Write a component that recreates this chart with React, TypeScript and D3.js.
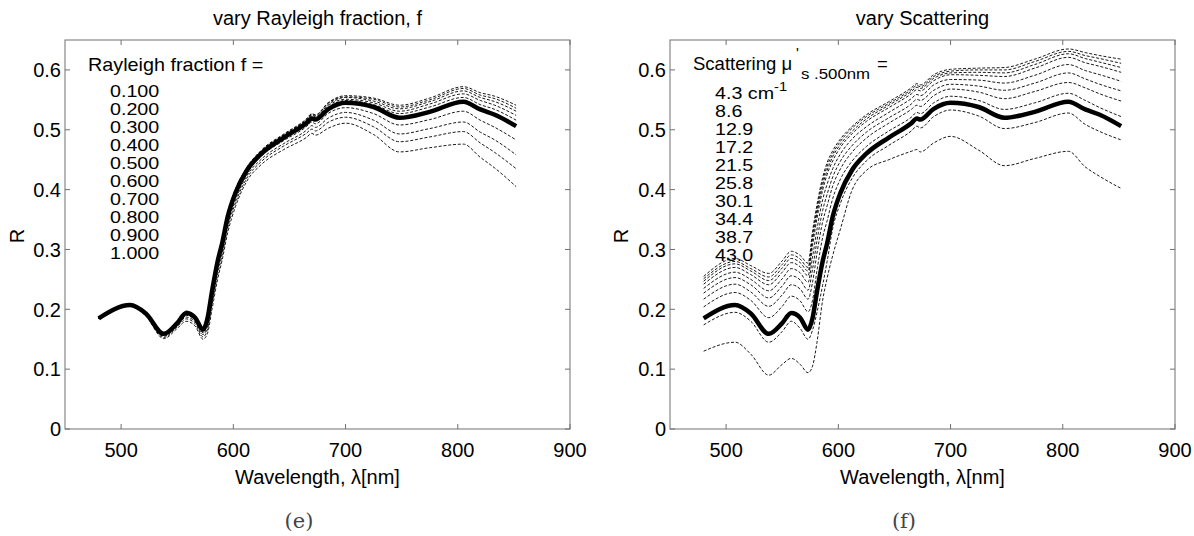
import React from 'react';
import * as d3 from 'd3';

const WL = [480, 508, 522, 538, 550, 558, 566, 573, 577, 581, 586, 590, 595, 602, 612, 625, 645, 665, 670, 673, 685, 700, 725, 748, 775, 805, 820, 833, 852];

// Bold reference curve (same in both panels)
const BOLD = [0.185, 0.207, 0.193, 0.159, 0.177, 0.194, 0.186, 0.166, 0.185, 0.230, 0.280, 0.310, 0.355, 0.395, 0.432, 0.460, 0.487, 0.511, 0.519, 0.517, 0.535, 0.545, 0.538, 0.520, 0.530, 0.547, 0.534, 0.525, 0.506];

// Panel (e): Rayleigh fraction f
const F_LABELS = ['0.100', '0.200', '0.300', '0.400', '0.500', '0.600', '0.700', '0.800', '0.900', '1.000'];
const RAY_F01 = [0.185, 0.207, 0.194, 0.161, 0.180, 0.197, 0.189, 0.170, 0.190, 0.236, 0.287, 0.318, 0.362, 0.401, 0.437, 0.466, 0.493, 0.518, 0.527, 0.525, 0.546, 0.557, 0.553, 0.541, 0.553, 0.572, 0.562, 0.556, 0.541];
const RAY_F02 = [0.185, 0.207, 0.194, 0.161, 0.180, 0.196, 0.188, 0.169, 0.189, 0.235, 0.286, 0.317, 0.361, 0.400, 0.436, 0.465, 0.492, 0.517, 0.526, 0.524, 0.545, 0.555, 0.551, 0.538, 0.550, 0.569, 0.558, 0.552, 0.536];
const RAY_F03 = [0.185, 0.207, 0.194, 0.160, 0.179, 0.196, 0.188, 0.169, 0.188, 0.233, 0.284, 0.315, 0.359, 0.399, 0.435, 0.464, 0.491, 0.516, 0.525, 0.522, 0.543, 0.554, 0.548, 0.535, 0.547, 0.565, 0.554, 0.547, 0.531];
const RAY_F04 = [0.185, 0.207, 0.193, 0.160, 0.179, 0.195, 0.187, 0.168, 0.186, 0.232, 0.282, 0.314, 0.358, 0.397, 0.434, 0.463, 0.490, 0.514, 0.523, 0.521, 0.541, 0.551, 0.545, 0.531, 0.543, 0.560, 0.549, 0.541, 0.524];
const RAY_F05 = [0.185, 0.207, 0.193, 0.159, 0.178, 0.194, 0.186, 0.166, 0.184, 0.229, 0.280, 0.311, 0.356, 0.396, 0.433, 0.462, 0.488, 0.512, 0.521, 0.519, 0.538, 0.549, 0.542, 0.527, 0.538, 0.554, 0.542, 0.534, 0.516];
const RAY_F06 = [0.185, 0.207, 0.193, 0.159, 0.177, 0.193, 0.185, 0.165, 0.183, 0.227, 0.278, 0.309, 0.354, 0.394, 0.431, 0.460, 0.487, 0.510, 0.519, 0.517, 0.535, 0.546, 0.538, 0.521, 0.532, 0.548, 0.535, 0.526, 0.507];
const RAY_F07 = [0.185, 0.207, 0.192, 0.157, 0.175, 0.190, 0.182, 0.161, 0.177, 0.221, 0.271, 0.303, 0.347, 0.389, 0.427, 0.456, 0.482, 0.505, 0.513, 0.510, 0.528, 0.537, 0.527, 0.508, 0.517, 0.531, 0.516, 0.504, 0.483];
const RAY_F08 = [0.186, 0.206, 0.191, 0.155, 0.173, 0.187, 0.179, 0.158, 0.172, 0.214, 0.264, 0.296, 0.341, 0.383, 0.423, 0.451, 0.477, 0.499, 0.507, 0.504, 0.520, 0.529, 0.516, 0.493, 0.502, 0.513, 0.496, 0.483, 0.458];
const RAY_F09 = [0.186, 0.206, 0.190, 0.153, 0.171, 0.184, 0.176, 0.154, 0.167, 0.208, 0.258, 0.290, 0.336, 0.378, 0.419, 0.447, 0.473, 0.494, 0.501, 0.498, 0.513, 0.521, 0.505, 0.480, 0.488, 0.497, 0.478, 0.462, 0.435];
const RAY_F10 = [0.186, 0.206, 0.189, 0.151, 0.168, 0.180, 0.172, 0.150, 0.160, 0.200, 0.250, 0.282, 0.328, 0.372, 0.414, 0.442, 0.467, 0.487, 0.494, 0.491, 0.503, 0.511, 0.492, 0.463, 0.470, 0.476, 0.454, 0.436, 0.405];
const RAYLEIGH_SERIES = [RAY_F01, RAY_F02, RAY_F03, RAY_F04, RAY_F05, RAY_F06, RAY_F07, RAY_F08, RAY_F09, RAY_F10];

// Panel (f): scattering mu_s' at 500 nm
const MU_LABELS = ['4.3', '8.6', '12.9', '17.2', '21.5', '25.8', '30.1', '34.4', '38.7', '43.0'];
const SCA_043 = [0.130, 0.145, 0.125, 0.090, 0.108, 0.118, 0.108, 0.094, 0.105, 0.145, 0.215, 0.252, 0.290, 0.335, 0.398, 0.432, 0.450, 0.464, 0.467, 0.463, 0.478, 0.489, 0.466, 0.440, 0.452, 0.464, 0.438, 0.422, 0.402];
const SCA_086 = [0.174, 0.195, 0.180, 0.145, 0.163, 0.180, 0.168, 0.150, 0.165, 0.195, 0.240, 0.280, 0.335, 0.378, 0.418, 0.448, 0.474, 0.498, 0.506, 0.503, 0.522, 0.533, 0.523, 0.502, 0.512, 0.528, 0.509, 0.497, 0.483];
const SCA_129 = [0.204, 0.228, 0.215, 0.186, 0.205, 0.222, 0.214, 0.196, 0.215, 0.265, 0.320, 0.348, 0.385, 0.418, 0.447, 0.472, 0.498, 0.521, 0.529, 0.527, 0.545, 0.556, 0.549, 0.534, 0.545, 0.561, 0.549, 0.537, 0.522];
const SCA_172 = [0.217, 0.242, 0.229, 0.205, 0.224, 0.241, 0.234, 0.217, 0.245, 0.294, 0.346, 0.373, 0.406, 0.435, 0.462, 0.486, 0.511, 0.534, 0.541, 0.539, 0.557, 0.568, 0.563, 0.552, 0.564, 0.579, 0.570, 0.560, 0.548];
const SCA_215 = [0.227, 0.253, 0.241, 0.219, 0.239, 0.256, 0.249, 0.232, 0.267, 0.315, 0.365, 0.392, 0.421, 0.448, 0.473, 0.496, 0.520, 0.543, 0.551, 0.549, 0.566, 0.576, 0.573, 0.566, 0.578, 0.595, 0.585, 0.576, 0.565];
const SCA_258 = [0.235, 0.262, 0.250, 0.231, 0.251, 0.268, 0.261, 0.245, 0.287, 0.334, 0.383, 0.409, 0.435, 0.460, 0.484, 0.505, 0.529, 0.552, 0.559, 0.557, 0.575, 0.584, 0.583, 0.578, 0.591, 0.609, 0.599, 0.592, 0.581];
const SCA_301 = [0.242, 0.270, 0.258, 0.241, 0.262, 0.278, 0.271, 0.256, 0.306, 0.352, 0.399, 0.425, 0.448, 0.471, 0.493, 0.514, 0.537, 0.560, 0.567, 0.565, 0.582, 0.592, 0.591, 0.589, 0.603, 0.621, 0.612, 0.606, 0.596];
const SCA_344 = [0.247, 0.276, 0.264, 0.248, 0.269, 0.285, 0.278, 0.264, 0.315, 0.361, 0.407, 0.432, 0.455, 0.476, 0.497, 0.518, 0.541, 0.564, 0.571, 0.569, 0.586, 0.595, 0.596, 0.595, 0.609, 0.627, 0.619, 0.613, 0.604];
const SCA_387 = [0.251, 0.280, 0.268, 0.254, 0.275, 0.291, 0.284, 0.270, 0.323, 0.368, 0.414, 0.439, 0.460, 0.481, 0.502, 0.522, 0.544, 0.567, 0.574, 0.572, 0.589, 0.598, 0.600, 0.600, 0.614, 0.631, 0.624, 0.619, 0.611];
const SCA_430 = [0.255, 0.285, 0.273, 0.260, 0.281, 0.297, 0.290, 0.277, 0.330, 0.375, 0.420, 0.445, 0.465, 0.485, 0.505, 0.525, 0.547, 0.570, 0.577, 0.575, 0.592, 0.601, 0.603, 0.604, 0.618, 0.635, 0.629, 0.624, 0.618];
const SCATTERING_SERIES = [SCA_043, SCA_086, SCA_129, SCA_172, SCA_215, SCA_258, SCA_301, SCA_344, SCA_387, SCA_430];

const X_TICKS = [500, 600, 700, 800, 900];
const Y_TICKS = [0, 0.1, 0.2, 0.3, 0.4, 0.5, 0.6];

const FONT = "'Liberation Sans', Arial, Helvetica, sans-serif";
const AXIS_COLOR = '#707070';
const TOP = 40;
const BOTTOM = 429;
const WIDTH = 505;
const LEG_SIZE = 16;
const LEG_STRETCH = 1.23;

type PanelProps = {
  left: number;
  title: string;
  series: number[][];
  rLabelX: number;
  caption: string;
  captionX: number;
  children?: React.ReactNode;
};

function Panel({ left, title, series, rLabelX, caption, captionX, children }: PanelProps) {
  const x = d3.scaleLinear().domain([450, 900]).range([left, left + WIDTH]);
  const y = d3.scaleLinear().domain([0, 0.65]).range([BOTTOM, TOP]);
  const line = d3
    .line<number>()
    .x((_, i) => x(WL[i]))
    .y((d) => y(d))
    .curve(d3.curveMonotoneX);
  const right = left + WIDTH;
  const tl = 5;
  return (
    <g>
      <text x={left + WIDTH / 2} y={25} textAnchor="middle" fontSize={20} fontFamily={FONT}>
        {title}
      </text>
      <rect x={left} y={TOP} width={WIDTH} height={BOTTOM - TOP} fill="none" stroke={AXIS_COLOR} strokeWidth={1} />
      {X_TICKS.map((t) => (
        <g key={'x' + t}>
          <line x1={x(t)} x2={x(t)} y1={BOTTOM} y2={BOTTOM - tl} stroke={AXIS_COLOR} />
          <line x1={x(t)} x2={x(t)} y1={TOP} y2={TOP + tl} stroke={AXIS_COLOR} />
          <text x={x(t)} y={457} textAnchor="middle" fontSize={20} fontFamily={FONT}>
            {t}
          </text>
        </g>
      ))}
      {Y_TICKS.map((t) => (
        <g key={'y' + t}>
          <line x1={left} x2={left + tl} y1={y(t)} y2={y(t)} stroke={AXIS_COLOR} />
          <line x1={right} x2={right - tl} y1={y(t)} y2={y(t)} stroke={AXIS_COLOR} />
          <text x={left - 4} y={y(t)} dy="0.36em" textAnchor="end" fontSize={20} fontFamily={FONT}>
            {t === 0 ? '0' : t.toFixed(1)}
          </text>
        </g>
      ))}
      <text x={left + WIDTH / 2} y={484} textAnchor="middle" fontSize={20} fontFamily={FONT}>
        Wavelength, λ[nm]
      </text>
      <text
        transform={`translate(${rLabelX},${236}) rotate(-90)`}
        textAnchor="middle"
        fontSize={20}
        fontFamily={FONT}
      >
        R
      </text>
      {series.map((s, i) => (
        <path key={i} d={line(s) || ''} fill="none" stroke="#000" strokeWidth={0.9} strokeDasharray="3,1.8" />
      ))}
      <path d={line(BOLD) || ''} fill="none" stroke="#000" strokeWidth={4.5} strokeLinejoin="round" />
      {children}
      <text x={captionX} y={528} textAnchor="middle" fontSize={21} fontFamily="'DejaVu Serif', 'Liberation Serif', serif" fill="#444">
        {caption}
      </text>
    </g>
  );
}

function StretchText({ x, y, size, stretch, children }: { x: number; y: number; size: number; stretch: number; children: React.ReactNode }) {
  return (
    <text transform={`translate(${x},${y}) scale(${stretch},1)`} fontSize={size} fontFamily={FONT}>
      {children}
    </text>
  );
}

export default function App() {
  return (
    <svg
      width={1194}
      height={536}
      viewBox="0 0 1194 536"
      style={{ position: 'absolute', left: 0, top: 0, background: '#fff' }}
    >
      <rect x={0} y={0} width={1194} height={536} fill="#fff" />
      <Panel left={65} title="vary Rayleigh fraction, f" series={RAYLEIGH_SERIES} rLabelX={23.5} caption="(e)" captionX={299}>
        <StretchText x={88} y={71} size={18} stretch={1.1}>
          Rayleigh fraction f =
        </StretchText>
        {F_LABELS.map((l, i) => (
          <StretchText key={l} x={110} y={97 + i * 18} size={LEG_SIZE} stretch={LEG_STRETCH}>
            {l}
          </StretchText>
        ))}
      </Panel>
      <Panel left={670} title="vary Scattering" series={SCATTERING_SERIES} rLabelX={628} caption="(f)" captionX={904}>
        <text x={693} y={70} fontSize={18.5} fontFamily={FONT}>
          Scattering μ
        </text>
        <text x={796} y={58} fontSize={15} fontFamily={FONT}>
          '
        </text>
        <StretchText x={801} y={79} size={14} stretch={1.2}>
          s .500nm
        </StretchText>
        <text x={877} y={70} fontSize={18.5} fontFamily={FONT}>
          =
        </text>
        {MU_LABELS.map((l, i) => (
          <StretchText key={l} x={715} y={99 + i * 18} size={LEG_SIZE} stretch={LEG_STRETCH}>
            {l}
            {i === 0 ? ' cm' : ''}
            {i === 0 ? (
              <tspan dy={-8} fontSize={12}>
                -1
              </tspan>
            ) : null}
          </StretchText>
        ))}
      </Panel>
    </svg>
  );
}
